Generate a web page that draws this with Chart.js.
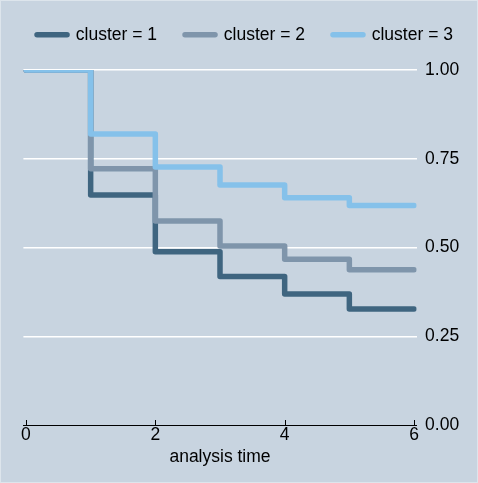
<!DOCTYPE html>
<html>
<head>
<meta charset="utf-8">
<script src="https://cdn.jsdelivr.net/npm/chart.js@4"></script>
<style>
  html, body { margin: 0; padding: 0; background: #c8d4e0; }
  #wrap { width: 476px; height: 481px; border: 1px solid #dde5ec; }
</style>
</head>
<body>
<div id="wrap"><canvas id="km" width="476" height="481"></canvas></div>
<script>
// analysis time points (step changes at each integer)
const times = [0, 1, 2, 3, 4, 5, 6];
const cluster1 = [1.0, 0.648, 0.488, 0.418, 0.369, 0.327, 0.327];
const cluster2 = [1.0, 0.722, 0.575, 0.504, 0.467, 0.437, 0.437];
const cluster3 = [1.0, 0.820, 0.727, 0.676, 0.640, 0.618, 0.618];
const seriesNames = ["cluster = 1", "cluster = 2", "cluster = 3"];
const xTicks = [0, 2, 4, 6];
const yTicks = [0, 0.25, 0.5, 0.75, 1];

const colors = ["#3f6580", "#7f95ab", "#85c1ea"];
const font = { family: "'Liberation Sans', Arial, sans-serif", size: 17.5 };

function pts(ys) {
  return times.map((t, i) => ({ x: t, y: ys[i] }));
}

// small upward tick marks on the x axis
const innerTicks = {
  id: "innerTicks",
  afterDraw(chart) {
    const x = chart.scales.x;
    const ctx = chart.ctx;
    ctx.save();
    ctx.strokeStyle = "#000";
    ctx.lineWidth = 1;
    xTicks.forEach(v => {
      const px = Math.round(x.getPixelForValue(v)) + 0.5;
      ctx.beginPath();
      ctx.moveTo(px, x.top);
      ctx.lineTo(px, x.top - 5);
      ctx.stroke();
    });
    ctx.restore();
  }
};

// empty axes used only as spacers
const spacer = size => ({
  type: "linear",
  display: true,
  grid: { display: false },
  border: { display: false },
  ticks: { display: false },
  afterFit: s => {
    if (s.isHorizontal()) s.height = size; else s.width = size;
  },
});

new Chart(document.getElementById("km"), {
  type: "line",
  data: {
    datasets: [cluster1, cluster2, cluster3].map((d, i) => ({
      label: seriesNames[i],
      data: pts(d),
      stepped: true,
      borderColor: colors[i],
      backgroundColor: colors[i],
      borderWidth: 5.5,
      borderCapStyle: "round",
      borderJoinStyle: "round",
      pointRadius: 0,
      fill: false,
      order: 3 - i,
    })),
  },
  plugins: [innerTicks],
  options: {
    responsive: false,
    animation: false,
    layout: { padding: { left: -4, right: -16, top: -3, bottom: 14 } },
    plugins: {
      legend: {
        position: "top",
        labels: {
          usePointStyle: true,
          pointStyle: "line",
          pointStyleWidth: 30,
          padding: 28,
          color: "#000",
          font: font,
          sort: (a, b) => a.datasetIndex - b.datasetIndex,
          generateLabels: chart =>
            Chart.defaults.plugins.legend.labels.generateLabels(chart).map(l => ({
              ...l,
              lineCap: "round",
              lineWidth: 5.5,
              strokeStyle: colors[l.datasetIndex],
            })),
        },
      },
      tooltip: { enabled: false },
    },
    scales: {
      x: {
        type: "linear",
        min: -0.04,
        max: 6.04,
        afterBuildTicks: s => { s.ticks = xTicks.map(v => ({ value: v })); },
        grid: { display: false, drawTicks: false },
        border: { display: true, color: "#000", width: 1 },
        ticks: { color: "#000", font: font, padding: 0 },
        title: { display: true, text: "analysis time", color: "#000", font: font, padding: { top: 1, bottom: 0 } },
      },
      y: {
        position: "right",
        min: 0,
        max: 1,
        afterBuildTicks: s => { s.ticks = yTicks.map(v => ({ value: v })); },
        afterFit: s => { s.width = 76.4; },
        grid: {
          color: ctx => (ctx.tick && ctx.tick.value === 0 ? "rgba(0,0,0,0)" : "#ffffff"),
          lineWidth: 1.5,
          drawTicks: false,
        },
        border: { display: false },
        ticks: {
          color: "#000",
          font: font,
          padding: 8.5,
          callback: v => v.toFixed(2),
        },
      },
      xt: { ...spacer(16.5), position: "top" },
      yl: { ...spacer(26.4), position: "left" },
    },
  },
});
</script>
</body>
</html>
